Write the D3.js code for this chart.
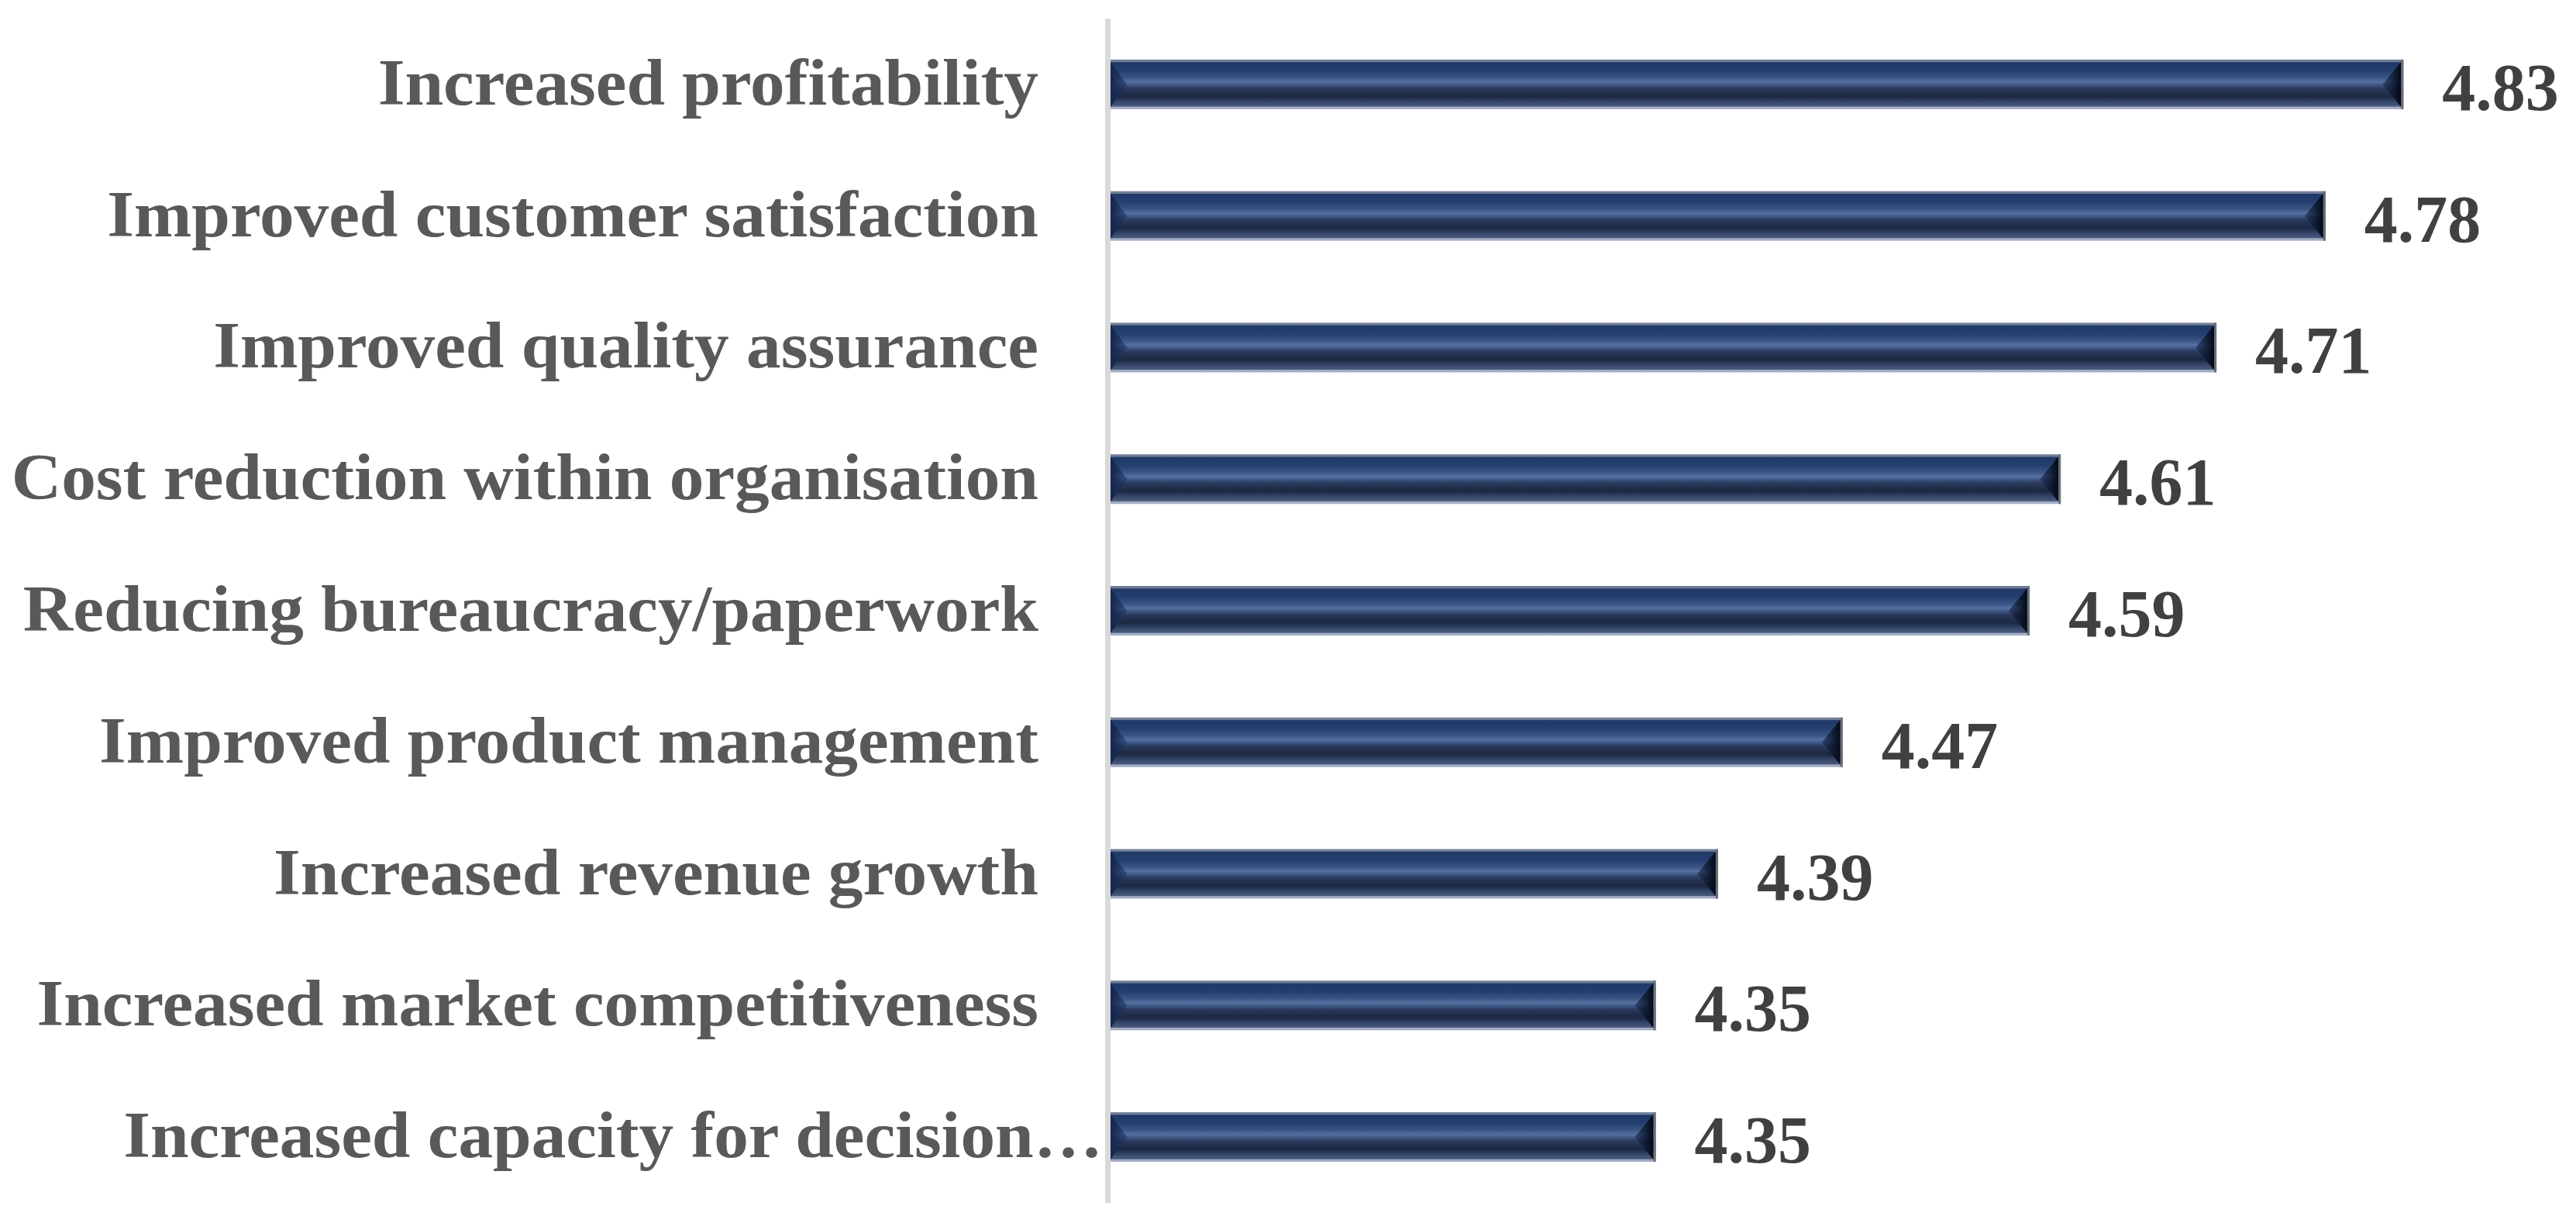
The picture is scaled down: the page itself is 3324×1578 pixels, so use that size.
<!DOCTYPE html>
<html>
<head>
<meta charset="utf-8">
<script src="https://cdn.jsdelivr.net/npm/d3@7"></script>
<style>
  html, body { margin: 0; padding: 0; background: #ffffff; }
  svg { display: block; }
</style>
</head>
<body>
<script>
const categories = [
  "Increased profitability",
  "Improved customer satisfaction",
  "Improved quality assurance",
  "Cost reduction within organisation",
  "Reducing bureaucracy/paperwork",
  "Improved product management",
  "Increased revenue growth",
  "Increased market competitiveness",
  "Increased capacity for decision…"
];
const values = [4.83, 4.78, 4.71, 4.61, 4.59, 4.47, 4.39, 4.35, 4.35];
const valueLabels = ["4.83", "4.78", "4.71", "4.61", "4.59", "4.47", "4.39", "4.35", "4.35"];

const W = 3324, H = 1578;
const axisX = 1433;
const x = d3.scaleLinear().domain([4.0, 5.0]).range([axisX, axisX + 2010]);
const y = d3.scaleBand().domain(categories).range([24, 1552]).paddingInner(0.623).paddingOuter(0.3115);

const svg = d3.select("body").append("svg").attr("width", W).attr("height", H);
const defs = svg.append("defs");

const grad = defs.append("linearGradient").attr("id", "barGrad")
  .attr("x1", 0).attr("y1", 0).attr("x2", 0).attr("y2", 1);
[
  [0, "#707d96"], [0.045, "#707d96"], [0.06, "#1f3868"], [0.22, "#243f6f"],
  [0.36, "#3a5585"], [0.45, "#5670a0"], [0.52, "#3c5380"], [0.58, "#2a3a5c"],
  [0.74, "#1c2741"], [0.85, "#34466a"], [0.94, "#4a5a7c"], [0.955, "#a3aec4"], [1, "#a3aec4"]
].forEach(([o, c]) => grad.append("stop").attr("offset", o).attr("stop-color", c));

const gradR = defs.append("linearGradient").attr("id", "endGradR")
  .attr("x1", 0).attr("y1", 0).attr("x2", 1).attr("y2", 0);
gradR.append("stop").attr("offset", 0).attr("stop-color", "#1a2b4d").attr("stop-opacity", 0.6);
gradR.append("stop").attr("offset", 1).attr("stop-color", "#030a18").attr("stop-opacity", 1);

const gradL = defs.append("linearGradient").attr("id", "endGradL")
  .attr("x1", 0).attr("y1", 0).attr("x2", 1).attr("y2", 0);
gradL.append("stop").attr("offset", 0).attr("stop-color", "#14254a").attr("stop-opacity", 1);
gradL.append("stop").attr("offset", 1).attr("stop-color", "#1d3563").attr("stop-opacity", 0.5);

const data = categories.map((c, i) => ({ c, v: values[i], l: valueLabels[i] }));

// axis line
svg.append("line")
  .attr("x1", axisX - 3.5).attr("x2", axisX - 3.5)
  .attr("y1", y.range()[0]).attr("y2", y.range()[1])
  .attr("stroke", "#d9d9d9").attr("stroke-width", 7);

const bh = y.bandwidth();
const bevel = bh * 0.42;
const g = svg.append("g");
data.forEach(d => {
  const x0 = x(4.0), x1 = x(d.v), y0 = y(d.c), y1 = y0 + bh, ym = y0 + bh / 2;
  g.append("rect").attr("x", x0).attr("y", y0).attr("width", x1 - x0).attr("height", bh)
    .attr("fill", "url(#barGrad)");
  g.append("path")
    .attr("d", `M${x0},${y0 + 3}L${x0 + bevel * 0.8},${ym}L${x0},${y1 - 3}Z`)
    .attr("fill", "url(#endGradL)");
  g.append("path")
    .attr("d", `M${x1 - 3},${y0 + 3}L${x1 - bevel},${ym}L${x1 - 3},${y1 - 3}Z`)
    .attr("fill", "url(#endGradR)");
  g.append("rect").attr("x", x1 - 3).attr("y", y0).attr("width", 3).attr("height", bh)
    .attr("fill", "#6a6e76");
});

const fontFam = "'Palatino Linotype', 'Book Antiqua', Palatino, 'Liberation Serif', serif";

// category labels (slightly widened to match the wider Palatino-like face)
svg.append("g").selectAll("text").data(data).join("text")
  .attr("transform", d => `translate(${d.c.endsWith("…") ? axisX - 10 : 1340},${y(d.c) + bh / 2 + 26}) scale(1.063,1)`)
  .attr("text-anchor", "end")
  .attr("font-family", fontFam)
  .attr("font-weight", "bold")
  .attr("font-size", 84)
  .attr("fill", "#595959")
  .text(d => d.c);

// value labels
svg.append("g").selectAll("text").data(data).join("text")
  .attr("x", d => x(d.v) + 50)
  .attr("y", d => y(d.c) + bh / 2 + 33)
  .attr("text-anchor", "start")
  .attr("font-family", fontFam)
  .attr("font-weight", "bold")
  .attr("font-size", 86)
  .attr("fill", "#404040")
  .text(d => d.l);
</script>
</body>
</html>
